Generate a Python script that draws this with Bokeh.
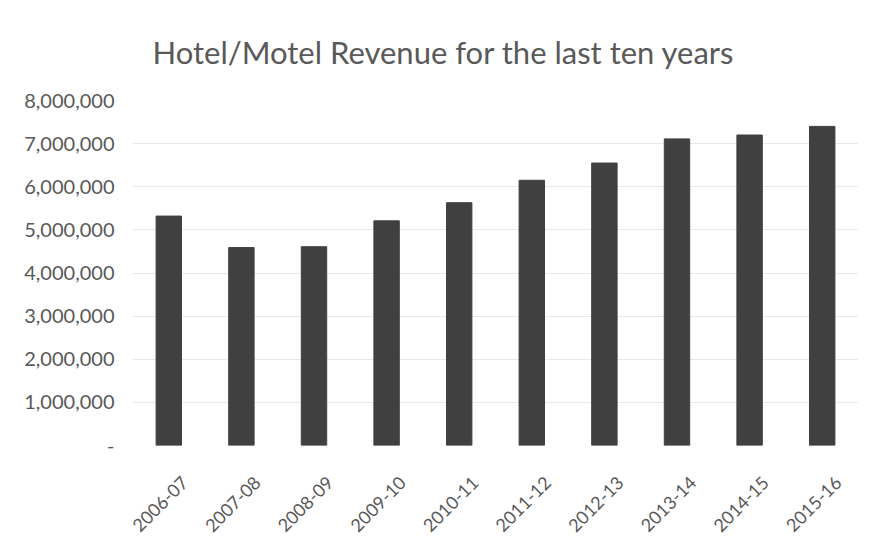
import math
from bokeh.plotting import figure
from bokeh.models import FixedTicker, Range1d, LinearAxis
from bokeh.embed import file_html
from bokeh.resources import INLINE

years = ["2006-07", "2007-08", "2008-09", "2009-10", "2010-11",
         "2011-12", "2012-13", "2013-14", "2014-15", "2015-16"]
revenue = [5320000, 4590000, 4610000, 5210000, 5630000,
           6150000, 6550000, 7110000, 7200000, 7400000]
y_ticks = [0, 1000000, 2000000, 3000000, 4000000, 5000000, 6000000, 7000000, 8000000]
y_labels = ["-", "1,000,000", "2,000,000", "3,000,000", "4,000,000",
            "5,000,000", "6,000,000", "7,000,000", "8,000,000"]

n = len(years)
idx = list(range(n))

p = figure(width=875, height=540, x_range=Range1d(-0.5, n - 0.5),
           y_range=Range1d(0, 8000000), output_backend="svg", toolbar_location=None,
           x_axis_location=None,
           title="Hotel/Motel Revenue for the last ten years")
p.min_border_left = 132
p.min_border_right = 17
p.min_border_top = 100
p.min_border_bottom = 93

p.vbar(x=idx, top=revenue, width=0.35, color="#404040")

p.title.align = "left"
p.title.offset = 20
p.title.text_font = "Lato"
p.title.text_font_size = "31px"
p.title.text_font_style = "normal"
p.title.text_color = "#595959"
p.title.standoff = 59

# category labels on a slightly shifted axis (Excel-style placement)
shift = 0.22
p.extra_x_ranges = {"lab": Range1d(-0.5 - shift, n - 0.5 - shift)}
lab_axis = LinearAxis(x_range_name="lab",
                      ticker=FixedTicker(ticks=idx),
                      major_label_overrides={i: y for i, y in zip(idx, years)})
p.add_layout(lab_axis, "below")

p.yaxis.ticker = FixedTicker(ticks=y_ticks)
p.yaxis.major_label_overrides = {t: l for t, l in zip(y_ticks, y_labels)}
for ax in (lab_axis, p.yaxis[0]):
    ax.axis_line_color = None
    ax.major_tick_line_color = None
    ax.minor_tick_line_color = None
    ax.major_label_text_font = "Lato"
    ax.major_label_text_color = "#595959"
lab_axis.major_label_text_font_size = "18px"
p.yaxis.major_label_text_font_size = "20px"
lab_axis.major_label_orientation = math.pi / 4
lab_axis.major_label_standoff = 28
p.yaxis.major_label_standoff = 12

p.xgrid.grid_line_color = None
p.ygrid.grid_line_color = "#e8e8e8"
p.outline_line_color = None
p.border_fill_color = "white"
p.background_fill_color = "white"

open("out.html", "w").write(file_html(p, INLINE))
